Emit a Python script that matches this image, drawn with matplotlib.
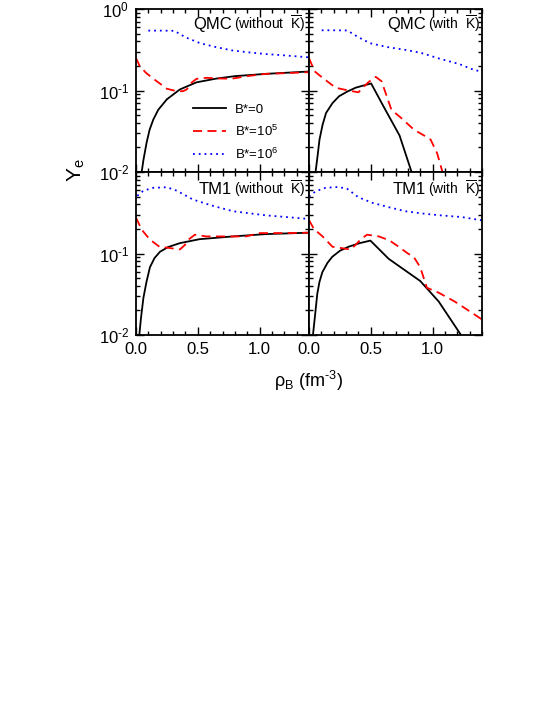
import matplotlib
matplotlib.use("Agg")
import matplotlib.pyplot as plt
from matplotlib.ticker import FixedLocator, MultipleLocator, NullFormatter

plt.rcParams['font.family'] = ['Liberation Sans', 'DejaVu Sans']
plt.rcParams['mathtext.fontset'] = 'custom'
plt.rcParams['mathtext.rm'] = 'Liberation Sans'
plt.rcParams['mathtext.it'] = 'Liberation Sans:italic'
plt.rcParams['mathtext.bf'] = 'Liberation Sans:bold'

# ---------------- data ----------------
legend_labels = [r'B*=0', r'B*=10$^5$', r'B*=10$^6$']
models = ['QMC', 'QMC', 'TM1', 'TM1']
cases = ['(without  $\\overline{\\mathrm{K}}$)', '(with  $\\overline{\\mathrm{K}}$)',
         '(without  $\\overline{\\mathrm{K}}$)', '(with  $\\overline{\\mathrm{K}}$)']
x_ticks = [0.0, 0.5, 1.0]
x_ticklabels = ['0.0', '0.5', '1.0']
y_ticks = [1e-2, 1e-1, 1e0]
y_ticklabels = [r'10$^{\text{-}2}$', r'10$^{\text{-}1}$', r'10$^{0}$']

# QMC without Kbar
qa_b0_x = [0.046, 0.06, 0.086, 0.11, 0.14, 0.18, 0.25, 0.355, 0.49, 0.65, 0.8, 1.05, 1.4]
qa_b0_y = [0.010, 0.014, 0.023, 0.033, 0.044, 0.058, 0.078, 0.103, 0.126, 0.140, 0.150, 0.160, 0.171]
qa_b5_x = [0.0, 0.03, 0.08, 0.15, 0.25, 0.33, 0.38, 0.41, 0.45, 0.49, 0.57, 0.7, 0.78, 0.9, 1.05, 1.2, 1.4]
qa_b5_y = [0.25, 0.20, 0.165, 0.136, 0.105, 0.098, 0.098, 0.103, 0.125, 0.139, 0.143, 0.14, 0.14, 0.15, 0.16, 0.163, 0.168]
qa_b6_x = [0.1, 0.2, 0.31, 0.4, 0.52, 0.65, 0.78, 0.9, 1.05, 1.2, 1.4]
qa_b6_y = [0.543, 0.543, 0.54, 0.45, 0.38, 0.34, 0.31, 0.295, 0.28, 0.27, 0.255]

# QMC with Kbar
qb_b0_x = [0.053, 0.07, 0.085, 0.11, 0.138, 0.19, 0.243, 0.31, 0.376, 0.44, 0.503, 0.6, 0.733, 0.83]
qb_b0_y = [0.01, 0.016, 0.025, 0.038, 0.053, 0.07, 0.085, 0.097, 0.108, 0.115, 0.122, 0.065, 0.028, 0.01]
qb_b5_x = [0.0, 0.045, 0.11, 0.217, 0.32, 0.40, 0.44, 0.48, 0.54, 0.587, 0.667, 0.746, 0.85, 0.95, 0.984, 1.037, 1.08]
qb_b5_y = [0.25, 0.172, 0.143, 0.108, 0.10, 0.095, 0.11, 0.126, 0.147, 0.13, 0.058, 0.046, 0.033, 0.027, 0.025, 0.017, 0.01]
qb_b6_x = [0.103, 0.2, 0.31, 0.4, 0.495, 0.64, 0.78, 0.905, 1.06, 1.22, 1.33, 1.4]
qb_b6_y = [0.548, 0.548, 0.545, 0.45, 0.38, 0.34, 0.315, 0.29, 0.245, 0.21, 0.18, 0.17]

# TM1 without Kbar
ta_b0_x = [0.027, 0.04, 0.06, 0.085, 0.113, 0.15, 0.194, 0.26, 0.355, 0.516, 0.785, 1.05, 1.4]
ta_b0_y = [0.01, 0.016, 0.0286, 0.045, 0.068, 0.088, 0.105, 0.12, 0.134, 0.15, 0.162, 0.173, 0.18]
ta_b5_x = [0.0, 0.046, 0.113, 0.19, 0.27, 0.355, 0.395, 0.43, 0.476, 0.57, 0.7, 0.785, 0.89, 1.0, 1.215, 1.4]
ta_b5_y = [0.275, 0.196, 0.148, 0.121, 0.117, 0.112, 0.127, 0.15, 0.17, 0.162, 0.162, 0.162, 0.162, 0.178, 0.178, 0.18]
ta_b6_x = [0.01, 0.06, 0.14, 0.25, 0.33, 0.46, 0.62, 0.785, 1.05, 1.376]
ta_b6_y = [0.51, 0.59, 0.64, 0.65, 0.59, 0.46, 0.385, 0.33, 0.294, 0.267]

# TM1 with Kbar
tb_b0_x = [0.032, 0.05, 0.067, 0.085, 0.108, 0.15, 0.188, 0.25, 0.32, 0.41, 0.497, 0.645, 0.9, 1.05, 1.23]
tb_b0_y = [0.01, 0.018, 0.032, 0.045, 0.059, 0.077, 0.091, 0.108, 0.121, 0.134, 0.144, 0.086, 0.046, 0.0257, 0.01]
tb_b5_x = [0.0, 0.04, 0.11, 0.19, 0.27, 0.336, 0.376, 0.42, 0.47, 0.565, 0.65, 0.726, 0.8, 0.847, 0.9, 0.954, 1.05, 1.18, 1.29, 1.4]
tb_b5_y = [0.257, 0.2, 0.162, 0.121, 0.116, 0.112, 0.127, 0.15, 0.17, 0.162, 0.145, 0.121, 0.1, 0.091, 0.068, 0.038, 0.033, 0.0257, 0.02, 0.0155]
tb_b6_x = [0.0, 0.054, 0.134, 0.24, 0.31, 0.40, 0.51, 0.645, 0.78, 0.914, 1.05, 1.236, 1.4]
tb_b6_y = [0.5, 0.58, 0.64, 0.655, 0.62, 0.49, 0.42, 0.37, 0.33, 0.31, 0.295, 0.28, 0.255]

panels = [
    [(qa_b0_x, qa_b0_y), (qa_b5_x, qa_b5_y), (qa_b6_x, qa_b6_y)],
    [(qb_b0_x, qb_b0_y), (qb_b5_x, qb_b5_y), (qb_b6_x, qb_b6_y)],
    [(ta_b0_x, ta_b0_y), (ta_b5_x, ta_b5_y), (ta_b6_x, ta_b6_y)],
    [(tb_b0_x, tb_b0_y), (tb_b5_x, tb_b5_y), (tb_b6_x, tb_b6_y)],
]

# ---------------- styling ----------------
styles = [dict(color='black', ls='-'),
          dict(color='#ff0000', ls=(0, (5, 3))),
          dict(color='#0000ff', ls=(0, (1, 2.2)))]

W, H = 545, 705
fig = plt.figure(figsize=(W / 100, H / 100), dpi=100)

left0, right0 = 136, 309
wpx = 173
tops = [9, 172]
hpx = 163
title_x = [0.555, 0.675, 0.555, 0.675]

axes = []
for i in range(4):
    r, c = divmod(i, 2)
    x0 = (left0 if c == 0 else right0) / W
    y0 = 1 - (tops[r] + hpx) / H
    ax = fig.add_axes([x0, y0, wpx / W, hpx / H])
    axes.append(ax)
    for (xs, ys), st, lab in zip(panels[i], styles, legend_labels):
        ax.plot(xs, ys, lw=1.3, label=lab, **st)
    ax.set_yscale('log')
    ax.set_xlim(0, 1.4)
    ax.set_ylim(1e-2, 1e0)
    ax.xaxis.set_major_locator(FixedLocator(x_ticks))
    ax.xaxis.set_minor_locator(MultipleLocator(0.1))
    ax.tick_params(which='both', direction='in', top=True, right=True,
                   width=1.0, labelsize=12, pad=5)
    ax.tick_params(which='major', length=6)
    ax.tick_params(which='minor', length=3)
    if r == 1:
        ax.set_xticklabels(x_ticklabels)
    else:
        ax.set_xticklabels([])
    if c == 0:
        if r == 0:
            ax.set_yticks(y_ticks)
            ax.set_yticklabels(y_ticklabels)
        else:
            ax.set_yticks(y_ticks)
            ax.set_yticklabels(y_ticklabels[:2] + [''])
    else:
        ax.set_yticks(y_ticks)
        ax.set_yticklabels([])
    ax.yaxis.set_minor_formatter(NullFormatter())
    for sp in ax.spines.values():
        sp.set_linewidth(1.3)
    ty = 0.905 if r == 0 else 0.89
    ax.text(title_x[i], ty, models[i], transform=ax.transAxes, ha='right',
            va='center', fontsize=12)
    ax.text(title_x[i] + 0.01, ty + 0.005, cases[i], transform=ax.transAxes, ha='left',
            va='center', fontsize=10)

axes[0].legend(loc='upper left', bbox_to_anchor=(0.33, 0.42), frameon=False,
               fontsize=9.5, handlelength=2.5, handletextpad=0.7,
               labelspacing=0.6, borderaxespad=0, borderpad=0)

fig.text(76 / W, 1 - 170 / H, r'Y$_\mathrm{e}$', fontsize=15, ha='center', va='center',
         rotation=90)
fig.text(309 / W, 1 - 381 / H, r'ρ$_\mathrm{B}$ (fm$^{\text{-}3}$)', fontsize=13,
         ha='center', va='center')

fig.savefig('out.png', dpi=100)
